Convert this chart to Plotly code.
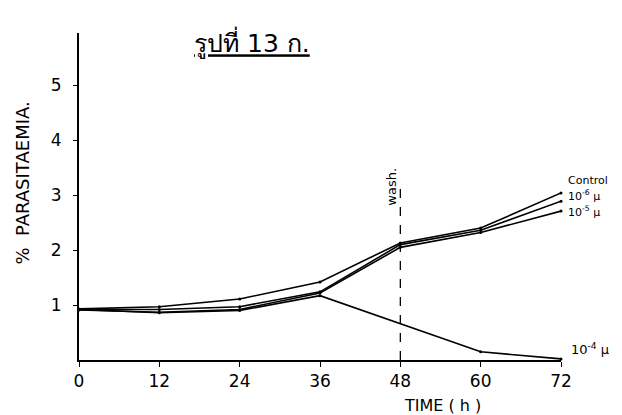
import plotly.graph_objects as go

# ---- data ----
time_h = [0, 12, 24, 36, 48, 60, 72]
control = [0.93, 0.97, 1.11, 1.42, 2.13, 2.40, 3.04]
conc_1e6 = [0.92, 0.92, 0.97, 1.24, 2.10, 2.36, 2.89]
conc_1e5 = [0.91, 0.87, 0.92, 1.22, 2.05, 2.32, 2.71]
time_1e4 = [0, 12, 24, 36, 60, 72]
conc_1e4 = [0.92, 0.86, 0.90, 1.17, 0.15, 0.02]

x_ticks = [0, 12, 24, 36, 48, 60, 72]
y_ticks = [1, 2, 3, 4, 5]
wash_time = 48
wash_top = 3.2

series_labels = ["Control", "10<sup>-6</sup> μ", "10<sup>-5</sup> μ"]
label_y = [3.26, 2.99, 2.71]
label_1e4 = "10<sup>-4</sup> μ"
label_1e4_y = 0.2

FONT = "DejaVu Sans"

fig = go.Figure()
for ys in (control, conc_1e6, conc_1e5):
    fig.add_trace(go.Scatter(x=time_h, y=ys, mode="lines+markers",
                             line=dict(color="black", width=1.6),
                             marker=dict(color="black", size=3),
                             cliponaxis=False, showlegend=False))
fig.add_trace(go.Scatter(x=time_1e4, y=conc_1e4, mode="lines+markers",
                         line=dict(color="black", width=1.6),
                         marker=dict(color="black", size=3),
                         cliponaxis=False, showlegend=False))

# wash line
fig.add_shape(type="line", xref="x", yref="y", x0=wash_time, x1=wash_time,
              y0=0, y1=wash_top, line=dict(color="black", width=1.3, dash="dash"))
fig.add_annotation(x=wash_time, y=wash_top - 0.05, xref="x", yref="y",
                   text="wash.", textangle=-90, showarrow=False,
                   xanchor="right", yanchor="middle", xshift=1,
                   font=dict(family=FONT, size=13, color="black"))

for txt, yy in zip(series_labels, label_y):
    fig.add_annotation(x=72, y=yy, xref="x", yref="y", text=txt, showarrow=False,
                       xanchor="left", yanchor="middle", xshift=5,
                       font=dict(family=FONT, size=11, color="black"))
fig.add_annotation(x=72, y=label_1e4_y, xref="x", yref="y", text=label_1e4,
                   showarrow=False, xanchor="left", yanchor="middle", xshift=8,
                   font=dict(family=FONT, size=13, color="black"))

# axis titles
fig.add_annotation(x=0.755, y=-0.138, xref="paper", yref="paper",
                   text="TIME ( h )", showarrow=False, xanchor="center", yanchor="middle",
                   font=dict(family=FONT, size=16, color="black"))
fig.add_annotation(x=-0.118, y=0.54, xref="paper", yref="paper",
                   text="%  PARASITAEMIA.", textangle=-90, showarrow=False,
                   xanchor="center", yanchor="middle",
                   font=dict(family=FONT, size=18, color="black"))

fig.update_layout(
    width=622, height=415,
    margin=dict(l=79, r=61, t=33, b=55),
    paper_bgcolor="white", plot_bgcolor="white",
    title=dict(text="<u>รูปที่ 13 ก.</u>", x=0.405, xanchor="center",
               y=0.895, yanchor="middle",
               font=dict(family=FONT, size=25, color="black")),
    xaxis=dict(range=[0, 72], tickvals=x_ticks, ticktext=[str(v) for v in x_ticks],
               showline=True, linecolor="black", linewidth=2, showgrid=False,
               zeroline=False, ticks="outside", ticklen=5, tickcolor="black",
               tickfont=dict(family=FONT, size=17, color="black")),
    yaxis=dict(range=[0, 5.95], tickvals=y_ticks, ticktext=[str(v) for v in y_ticks],
               showline=True, linecolor="black", linewidth=2, showgrid=False,
               zeroline=False, ticks="outside", ticklen=4, tickcolor="black",
               ticklabelstandoff=8,
               tickfont=dict(family=FONT, size=17, color="black")),
)

fig.write_html("out.html")
